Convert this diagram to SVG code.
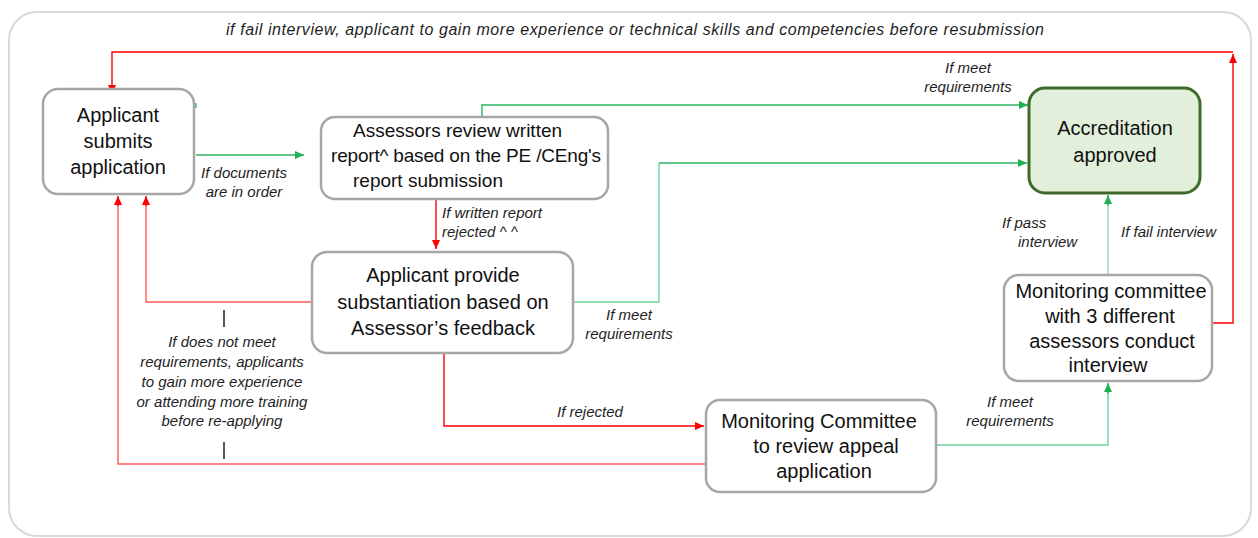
<svg xmlns="http://www.w3.org/2000/svg" width="1258" height="538" viewBox="0 0 1258 538">
  <style>
    .frame { fill: #ffffff; stroke: #d9d9d9; stroke-width: 2; }
    .box { fill: #ffffff; stroke: #a6a6a6; stroke-width: 2.5; }
    .box-ok { fill: #e2efda; stroke: #3e6b2c; stroke-width: 3; }
    .nt { font-family: "Liberation Sans", Arial, sans-serif; font-size: 20px; fill: #111111; text-anchor: middle; }
    .nt19 { font-family: "Liberation Sans", Arial, sans-serif; font-size: 19px; fill: #111111; }
    .lb { font-family: "Liberation Sans", Arial, sans-serif; font-size: 15px; font-style: italic; fill: #1e1e1e; }
    .lbt { font-family: "Liberation Sans", Arial, sans-serif; font-size: 16px; font-style: italic; fill: #1e1e1e; }
    .c { text-anchor: middle; }
    .red { fill: none; stroke: #ff0000; stroke-width: 1.4; }
    .pink { fill: none; stroke: #ff5a5a; stroke-width: 1.4; }
    .green { fill: none; stroke: #2db560; stroke-width: 1.4; }
    .lgreen { fill: none; stroke: #6fd39a; stroke-width: 1.4; }
    .mint { fill: none; stroke: #8fdcb4; stroke-width: 1.4; }
    .tick { stroke: #111111; stroke-width: 1.4; }
  </style>
  <defs>
    <marker id="ah-red" markerUnits="userSpaceOnUse" markerWidth="10" markerHeight="8" refX="9" refY="4" orient="auto">
      <path d="M0,0 L9,4 L0,8 Z" fill="#ff0000"/>
    </marker>
    <marker id="ah-green" markerUnits="userSpaceOnUse" markerWidth="10" markerHeight="8" refX="9" refY="4" orient="auto">
      <path d="M0,0 L9,4 L0,8 Z" fill="#1fb050"/>
    </marker>
  </defs>

  <!-- outer frame -->
  <rect class="frame" x="9" y="12" width="1242" height="524" rx="28"/>

  <!-- connectors -->
  <g id="connectors">
    <!-- interview failed: back to the start -->
    <path class="red" d="M1212,323 H1233 V54" marker-end="url(#ah-red)"/>
    <path class="red" d="M1233,52 H112 V94" marker-end="url(#ah-red)"/>
    <!-- documents in order -->
    <path class="green" d="M196,155 H304" marker-end="url(#ah-green)"/>
    <path class="green" d="M194,107 H196 V103"/>
    <!-- written report meets requirements -->
    <path class="green" d="M482,117 V105 H1028" marker-end="url(#ah-green)"/>
    <!-- written report rejected -->
    <path class="red" d="M436,199 V249" marker-end="url(#ah-red)"/>
    <!-- substantiation meets requirements -->
    <path class="lgreen" d="M573,302 H659 V163"/>
    <path class="green" d="M659,163 H1027" marker-end="url(#ah-green)"/>
    <!-- substantiation does not meet requirements -->
    <path class="pink" d="M312,302 H146 V204"/>
    <path class="red" d="M146,206 V196" marker-end="url(#ah-red)"/>
    <!-- substantiation rejected: appeal -->
    <path class="red" d="M444,353 V426 H704" marker-end="url(#ah-red)"/>
    <!-- appeal rejected -->
    <path class="pink" d="M706,464 H118 V204"/>
    <path class="red" d="M118,206 V196" marker-end="url(#ah-red)"/>
    <!-- appeal meets requirements -->
    <path class="lgreen" d="M936,445 H1108 V392"/>
    <path class="green" d="M1108,394 V383" marker-end="url(#ah-green)"/>
    <!-- interview passed -->
    <path class="mint" d="M1108,275 V204"/>
    <path class="green" d="M1108,206 V195" marker-end="url(#ah-green)"/>
    <!-- label brackets -->
    <line class="tick" x1="224" y1="310" x2="224" y2="327"/>
    <line class="tick" x1="224" y1="442" x2="224" y2="459"/>
  </g>

  <!-- connector labels -->
  <g id="labels">
    <text class="lbt" x="226" y="35" textLength="818">if fail interview, applicant to gain more experience or technical skills and competencies before resubmission</text>
    <text class="lb c" x="244" y="178">If documents</text>
    <text class="lb c" x="244" y="197">are in order</text>
    <text class="lb" x="442" y="218">If written report</text>
    <text class="lb" x="442" y="237">rejected ^ ^</text>
    <text class="lb c" x="968" y="73">If meet</text>
    <text class="lb c" x="968" y="92">requirements</text>
    <text class="lb" x="1002" y="228">If pass</text>
    <text class="lb" x="1018" y="247">interview</text>
    <text class="lb" x="1121" y="237">If fail interview</text>
    <text class="lb c" x="629" y="320">If meet</text>
    <text class="lb c" x="629" y="339">requirements</text>
    <text class="lb c" x="222" y="347">If does not meet</text>
    <text class="lb c" x="222" y="367">requirements, applicants</text>
    <text class="lb c" x="222" y="387">to gain more experience</text>
    <text class="lb c" x="222" y="407">or attending more training</text>
    <text class="lb c" x="222" y="426">before re-applying</text>
    <text class="lb" x="557" y="417">If rejected</text>
    <text class="lb c" x="1010" y="407">If meet</text>
    <text class="lb c" x="1010" y="426">requirements</text>
  </g>

  <!-- nodes -->
  <g id="node-submit">
    <rect class="box" x="43" y="89" width="151" height="105" rx="15"/>
    <text class="nt" x="118" y="122">Applicant</text>
    <text class="nt" x="118" y="148">submits</text>
    <text class="nt" x="118" y="174">application</text>
  </g>

  <g id="node-review">
    <rect class="box" x="321" y="117" width="287" height="82" rx="14"/>
    <text class="nt19" x="353" y="137">Assessors review written</text>
    <text class="nt19" x="331" y="162" textLength="270">report^ based on the PE /CEng's</text>
    <text class="nt19" x="353" y="187">report submission</text>
  </g>

  <g id="node-substantiation">
    <rect class="box" x="312" y="252" width="261" height="101" rx="15"/>
    <text class="nt" x="443" y="282">Applicant provide</text>
    <text class="nt" x="443" y="309">substantiation based on</text>
    <text class="nt" x="443" y="335">Assessor’s feedback</text>
  </g>

  <g id="node-approved">
    <rect class="box-ok" x="1029" y="88" width="171" height="105" rx="16"/>
    <text class="nt" x="1115" y="135">Accreditation</text>
    <text class="nt" x="1115" y="162">approved</text>
  </g>

  <g id="node-interview">
    <rect class="box" x="1004" y="275" width="208" height="106" rx="15"/>
    <text class="nt" x="1111" y="298">Monitoring committee</text>
    <text class="nt" x="1110" y="323">with 3 different</text>
    <text class="nt" x="1112" y="348">assessors conduct</text>
    <text class="nt" x="1108" y="372">interview</text>
  </g>

  <g id="node-appeal">
    <rect class="box" x="706" y="400" width="230" height="92" rx="14"/>
    <text class="nt" x="819" y="428">Monitoring Committee</text>
    <text class="nt" x="826" y="453">to review appeal</text>
    <text class="nt" x="824" y="478">application</text>
  </g>
</svg>
